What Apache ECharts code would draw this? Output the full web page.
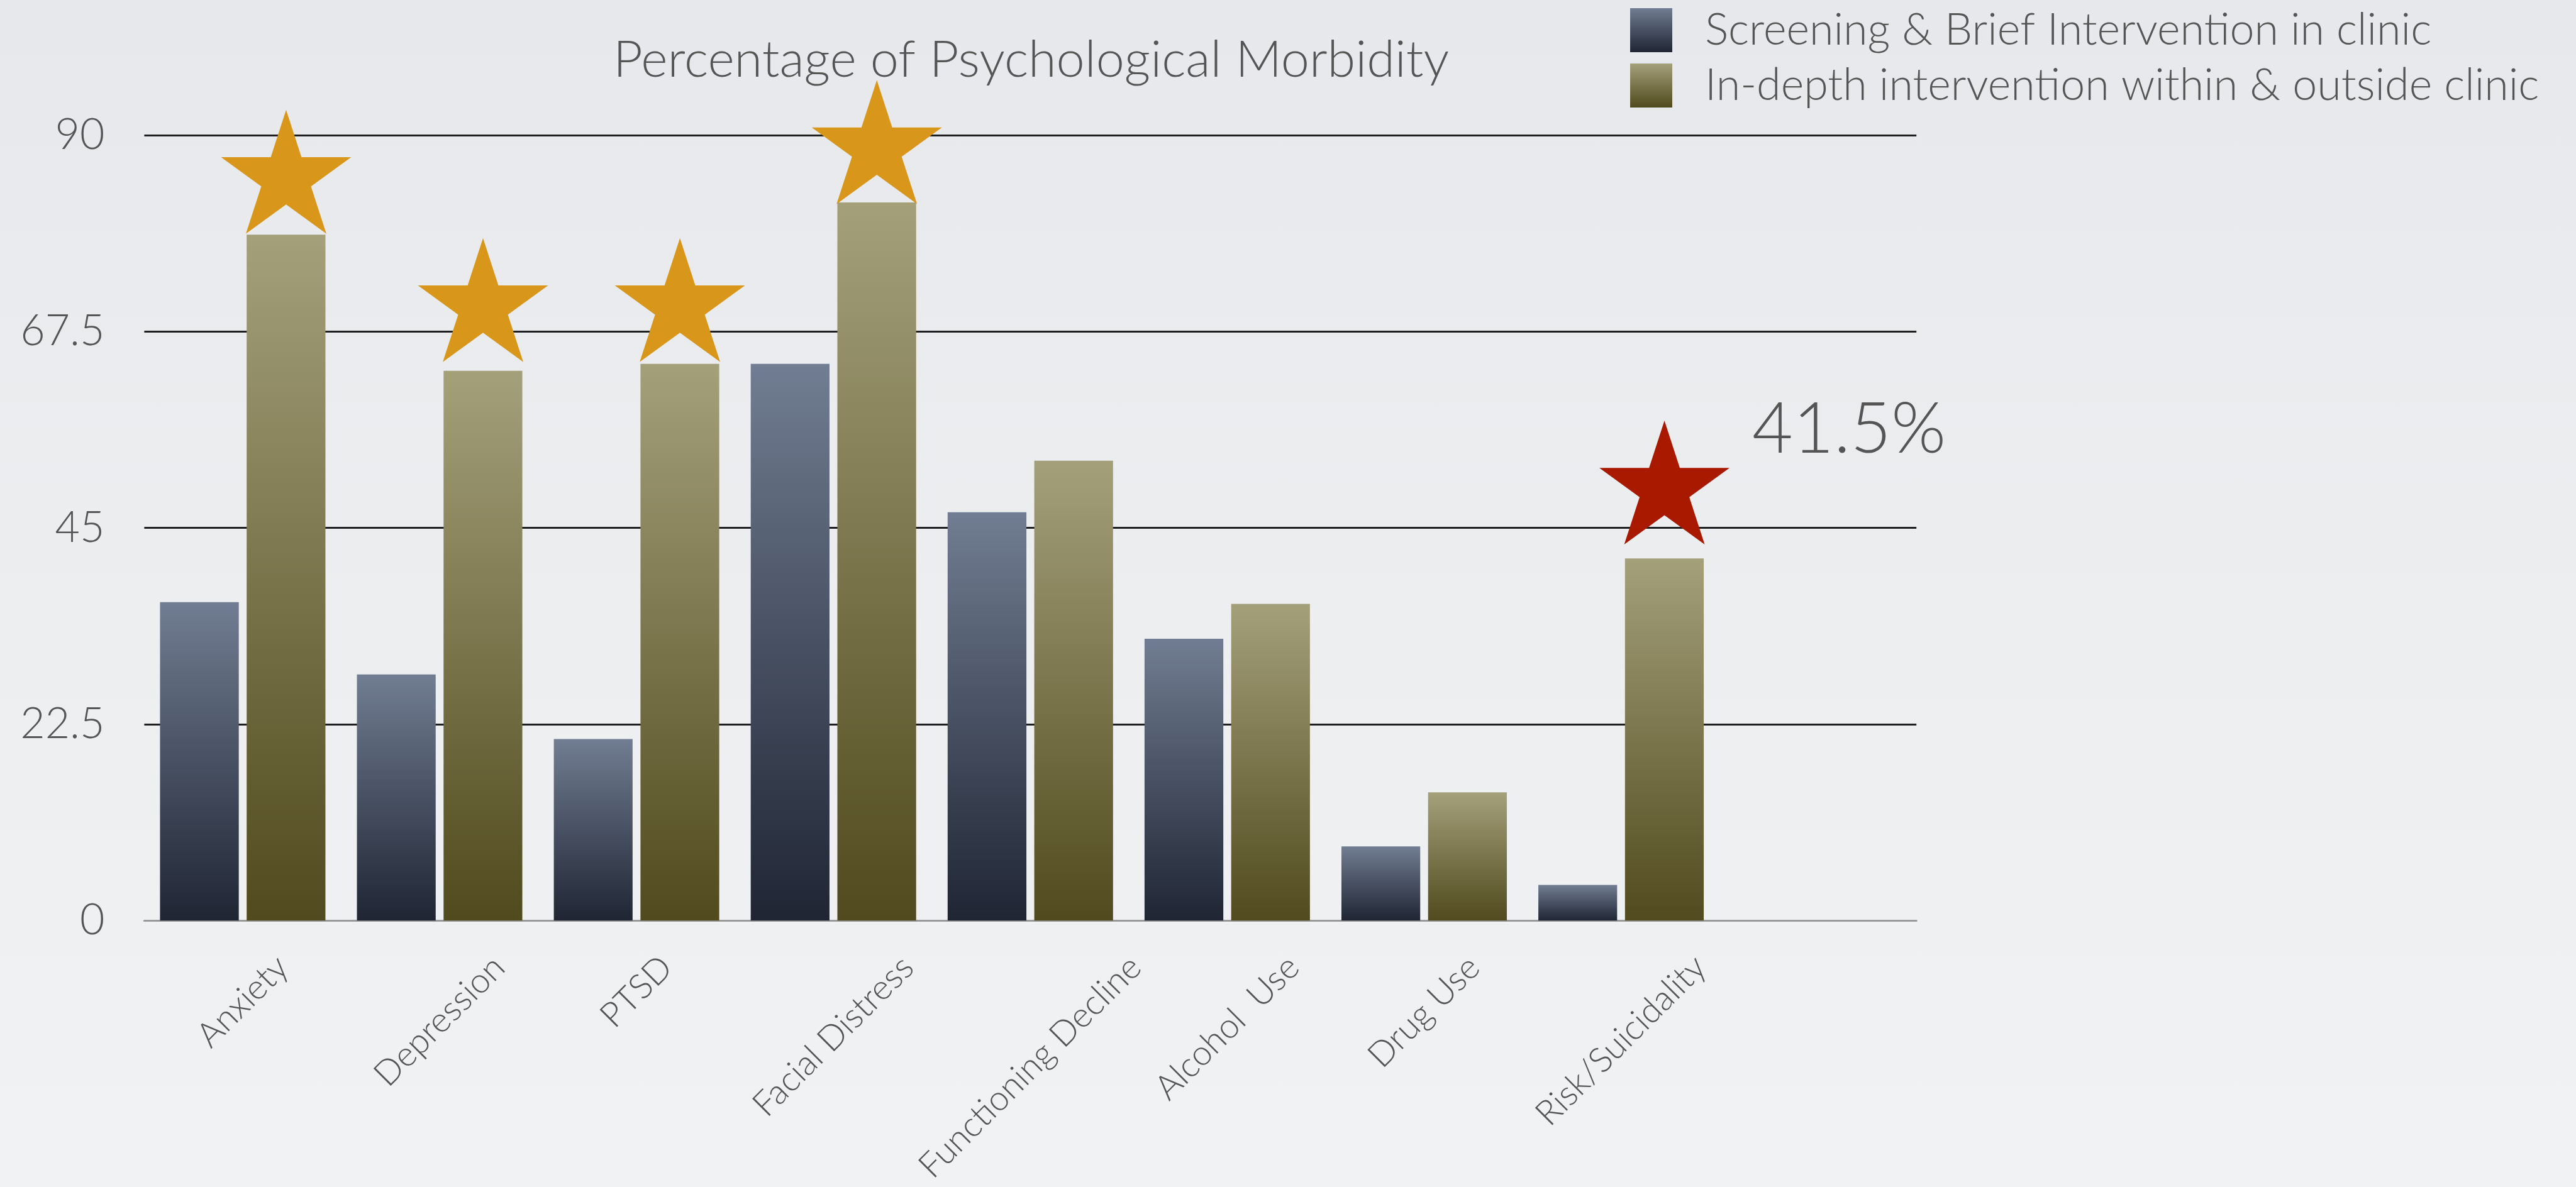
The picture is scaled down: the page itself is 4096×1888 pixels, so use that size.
<!DOCTYPE html>
<html>
<head>
<meta charset="utf-8">
<script src="https://cdn.jsdelivr.net/npm/echarts@6/dist/echarts.min.js"></script>
<style>
  html, body { margin: 0; padding: 0; }
  body { width: 4096px; height: 1888px; background: linear-gradient(180deg, #e6e8eb 0%, #eceef0 50%, #f1f2f4 100%); }
  #chart { width: 4096px; height: 1888px; }
</style>
</head>
<body>
<div id="chart"></div>
<script>
// ---- data ----
const categories = ['Anxiety', 'Depression', 'PTSD', 'Facial Distress', 'Functioning Decline', 'Alcohol  Use', 'Drug Use', 'Risk/Suicidality'];
const seriesNames = ['Screening & Brief Intervention in clinic', 'In-depth intervention within & outside clinic'];
const screeningBrief = [36.5, 28.2, 20.8, 63.8, 46.8, 32.3, 8.5, 4.1];
const inDepth = [78.6, 63.0, 63.8, 82.3, 52.7, 36.3, 14.7, 41.5];
const goldStarLevels = [85.8, 71.1, 71.1, 89.2, '-', '-', '-', '-'];
const redStarLevels = ['-', '-', '-', '-', '-', '-', '-', 50.2];
const yTickLabels = ['0', '22.5', '45', '67.5', '90'];
const titleText = 'Percentage of Psychological Morbidity';

// ---- style ----
const FONT = 'Lato';
const TEXT = '#555555';
const XF = 55;
const axisCats = categories.concat(['']);

// Rotated labels are centred under their category with a common top edge:
// shift each label down along the page by (w + h) / (2*sqrt2) using an empty
// first line (local down) plus right padding (local left).
const ctx = document.createElement('canvas').getContext('2d');
ctx.font = '300 ' + XF + 'px ' + FONT;
const xData = axisCats.map(function (c) {
  const w = ctx.measureText(c).width;
  const s = Math.max(XF, Math.round((w + XF) / 2));
  return {
    value: c,
    textStyle: {
      align: 'center', verticalAlign: 'middle',
      fontFamily: FONT, fontWeight: 300, fontSize: XF, color: TEXT,
      lineHeight: s,
      padding: [0, s, 0, 0]
    }
  };
});

function starPath() {
  const pts = [];
  for (let i = 0; i < 10; i++) {
    const a = (-90 + 36 * i) * Math.PI / 180;
    const r = i % 2 === 0 ? 100 : 38.2;
    pts.push((r * Math.cos(a)).toFixed(2) + ' ' + (r * Math.sin(a)).toFixed(2));
  }
  return 'path://M' + pts.join(' L') + ' Z';
}
const STAR = starPath();

const blueGrad = new echarts.graphic.LinearGradient(0, 0, 0, 1, [
  { offset: 0, color: '#717d92' }, { offset: 1, color: '#1f2533' }]);
const oliveGrad = new echarts.graphic.LinearGradient(0, 0, 0, 1, [
  { offset: 0, color: '#a4a07a' }, { offset: 1, color: '#514a1e' }]);

const chart = echarts.init(document.getElementById('chart'), null, { renderer: 'canvas' });
chart.setOption({
  animation: false,
  backgroundColor: 'transparent',
  title: {
    text: titleText,
    left: 975, top: 55, padding: 0,
    textStyle: { fontFamily: FONT, fontWeight: 300, fontSize: 81, color: TEXT }
  },
  legend: {
    orient: 'vertical',
    left: 2592, top: 13, padding: 0,
    itemWidth: 67, itemHeight: 70, itemGap: 18,
    icon: 'rect',
    data: seriesNames,
    textStyle: { fontFamily: FONT, fontWeight: 300, fontSize: 70, color: TEXT, padding: [0, 0, 0, 47] }
  },
  grid: { left: 229.4, right: 1048.8, top: 215, bottom: 423.7, outerBoundsMode: 'none', containLabel: false },
  xAxis: {
    type: 'category',
    data: xData,
    axisLine: { lineStyle: { color: '#9a9a9a', width: 3 } },
    axisTick: { show: false },
    axisLabel: {
      interval: 0, rotate: 45, margin: 46,
      align: 'center', verticalAlign: 'middle',
      fontFamily: FONT, fontWeight: 300, fontSize: XF, color: TEXT,
      formatter: function (v) { return v ? '\n' + v : ''; }
    }
  },
  yAxis: {
    type: 'value', min: 0, max: 90, interval: 22.5,
    axisLine: { show: false }, axisTick: { show: false },
    splitLine: { lineStyle: { color: '#1e1e1e', width: 3 } },
    axisLabel: {
      margin: 63, fontFamily: FONT, fontWeight: 300, fontSize: 68, color: TEXT,
      formatter: function (v) { const i = Math.round(v / 22.5); return yTickLabels[i]; }
    }
  },
  series: [
    {
      name: seriesNames[0], type: 'bar', data: screeningBrief,
      barCategoryGap: '16%', barGap: '10%',
      itemStyle: { color: blueGrad }
    },
    {
      name: seriesNames[1], type: 'bar', data: inDepth,
      barCategoryGap: '16%', barGap: '10%',
      itemStyle: { color: oliveGrad }
    },
    {
      name: 'stars', type: 'scatter', data: goldStarLevels,
      symbol: STAR, symbolSize: [207, 197], symbolOffset: [69, 0],
      itemStyle: { color: '#d8971a', opacity: 1 }, silent: true, z: 5
    },
    {
      name: 'riskStar', type: 'scatter', data: redStarLevels,
      symbol: STAR, symbolSize: [207, 197], symbolOffset: [69, 0],
      itemStyle: { color: '#a81900', opacity: 1 }, silent: true, z: 5,
      label: {
        show: true, position: 'right', distance: 36, offset: [0, -84],
        formatter: function () { return inDepth[7] + '%'; },
        fontFamily: FONT, fontWeight: 300, fontSize: 112, color: TEXT
      }
    }
  ]
});
</script>
</body>
</html>
